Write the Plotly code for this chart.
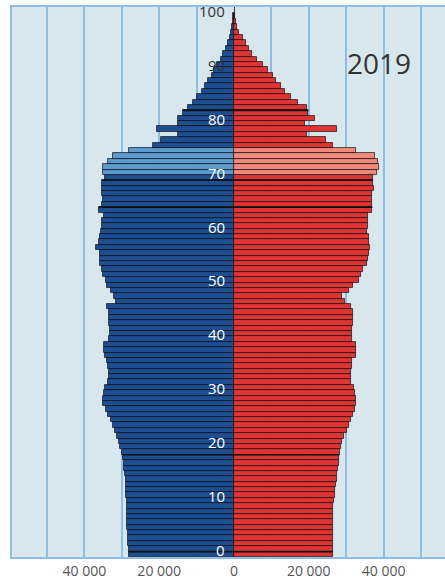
import plotly.graph_objects as go

# ---- data (thousands of persons per one-year age bar) ----
ages = list(range(0, 101))

male_k = [
    28.2, 28.2, 28.3, 28.3, 28.4, 28.5, 28.5, 28.5, 28.5, 28.5,
    28.6, 28.8, 28.8, 28.9, 29.0, 29.1, 29.3, 29.4, 29.6, 30.0,
    30.5, 30.8, 31.2, 31.8, 32.3, 33.0, 33.6, 34.3, 34.9, 35.0,
    34.8, 34.5, 33.8, 33.4, 33.4, 33.8, 34.0, 34.5, 34.7, 34.7,
    33.3, 33.2, 33.2, 33.4, 33.5, 33.4, 33.9, 31.5, 32.0, 33.0,
    34.0, 34.3, 35.0, 35.3, 35.7, 35.8, 35.9, 36.8, 36.2, 35.9,
    35.6, 35.4, 35.2, 34.8, 36.1, 35.2, 35.1, 35.2, 35.4, 35.2,
    34.6, 34.9, 34.9, 33.8, 32.3, 28.2, 21.6, 19.6, 14.9, 20.7,
    14.9, 14.9, 13.6, 12.3, 10.9, 10.0, 8.6, 7.8, 6.9, 6.0,
    5.3, 4.5, 3.6, 2.9, 2.2, 1.6, 1.2, 0.9, 0.6, 0.4,
    0.2,
]

female_k = [
    26.4, 26.4, 26.4, 26.5, 26.5, 26.5, 26.5, 26.5, 26.6, 26.6,
    26.8, 27.0, 27.1, 27.3, 27.5, 27.6, 27.7, 28.0, 28.2, 28.4,
    28.7, 29.0, 29.5, 30.2, 30.8, 31.4, 31.9, 32.3, 32.6, 32.7,
    32.4, 32.0, 31.4, 31.2, 31.4, 31.6, 31.6, 32.5, 32.7, 32.6,
    31.5, 31.5, 31.6, 31.9, 31.9, 31.9, 31.3, 29.6, 29.0, 30.8,
    31.9, 33.5, 33.9, 34.6, 35.5, 35.7, 36.1, 36.3, 36.2, 36.0,
    35.6, 35.7, 35.8, 35.9, 37.0, 36.8, 36.9, 37.0, 37.4, 37.1,
    37.2, 38.3, 38.8, 38.5, 37.7, 32.7, 26.4, 24.7, 19.4, 27.5,
    19.0, 21.7, 19.9, 19.4, 17.2, 15.2, 13.6, 12.7, 11.2, 10.3,
    9.2, 7.8, 6.1, 4.7, 4.1, 3.2, 2.3, 1.4, 0.9, 0.6,
    0.3,
]

highlight_ages = [71, 72, 73, 74, 75]      # lighter coloured cohort
divider_ages = [0, 18, 64, 69, 82]        # bars with a heavy black top edge
age_labels = [0, 10, 20, 30, 40, 50, 60, 70, 80, 90, 100]
x_tick_vals = [-50000, -40000, -30000, -20000, -10000, 0, 10000, 20000, 30000, 40000, 50000]
x_tick_text = ["", "40 000", "", "20 000", "", "0", "", "20 000", "", "40 000", ""]
year_label = "2019"

# ---- styling ----
BLUE = "#1c4e90"
BLUE_LIGHT = "#5d9acd"
RED = "#df3434"
RED_LIGHT = "#f08a7a"
BG = "#d8e6ee"
GRID = "#90bde2"

male = [v * 1000 for v in male_k]
female = [v * 1000 for v in female_k]

male_colors = [BLUE_LIGHT if a in highlight_ages else BLUE for a in ages]
female_colors = [RED_LIGHT if a in highlight_ages else RED for a in ages]

fig = go.Figure()
fig.add_trace(go.Bar(
    y=ages, x=[-v for v in male], orientation="h",
    marker=dict(color=male_colors, line=dict(color="rgba(10,10,20,0.75)", width=0.9)),
    name="Miehet", showlegend=False, hoverinfo="skip",
))
fig.add_trace(go.Bar(
    y=ages, x=female, orientation="h",
    marker=dict(color=female_colors, line=dict(color="rgba(20,10,10,0.75)", width=0.9)),
    name="Naiset", showlegend=False, hoverinfo="skip",
))

shapes = []
for a in divider_ages:
    shapes.append(dict(
        type="line", xref="x", yref="y",
        x0=-male[a], x1=female[a], y0=a + 0.5, y1=a + 0.5,
        line=dict(color="#111111", width=1.6), layer="above",
    ))

annotations = []
for a in age_labels:
    annotations.append(dict(
        x=0, y=a + 0.88, xref="x", yref="y", text=str(a),
        showarrow=False, xanchor="right", yanchor="middle", xshift=-7,
        font=dict(family="Open Sans", size=15,
                  color="#ffffff" if a <= 80 else "#333333"),
    ))
annotations.append(dict(
    x=0.848, y=0.898, xref="paper", yref="paper", text=year_label,
    showarrow=False, xanchor="center", yanchor="middle",
    font=dict(family="Open Sans", size=28, color="#333333"),
))

fig.update_layout(
    width=445, height=582,
    margin=dict(l=12, r=0, t=7, b=25),
    paper_bgcolor="white", plot_bgcolor=BG,
    barmode="relative", bargap=0,
    shapes=shapes, annotations=annotations,
    font=dict(family="Open Sans"),
)
fig.update_xaxes(
    range=[-59360, 56420],
    tickvals=x_tick_vals, ticktext=x_tick_text,
    showgrid=True, gridcolor=GRID, gridwidth=1.5,
    zeroline=True, zerolinecolor="#3a3a3a", zerolinewidth=1,
    showline=True, linecolor=GRID, linewidth=1.5, mirror=True,
    ticks="", tickfont=dict(family="Open Sans", size=14, color="#555555"),
    fixedrange=True,
)
fig.update_yaxes(
    range=[-0.5, 101.7],
    showticklabels=False, showgrid=False, zeroline=False,
    showline=True, linecolor=GRID, linewidth=1.5, mirror=False,
    ticks="", fixedrange=True,
)

fig.write_html(
    "out.html",
    config={"displayModeBar": False},
    post_script="document.body.style.margin='0px';document.body.style.overflow='hidden';",
)
